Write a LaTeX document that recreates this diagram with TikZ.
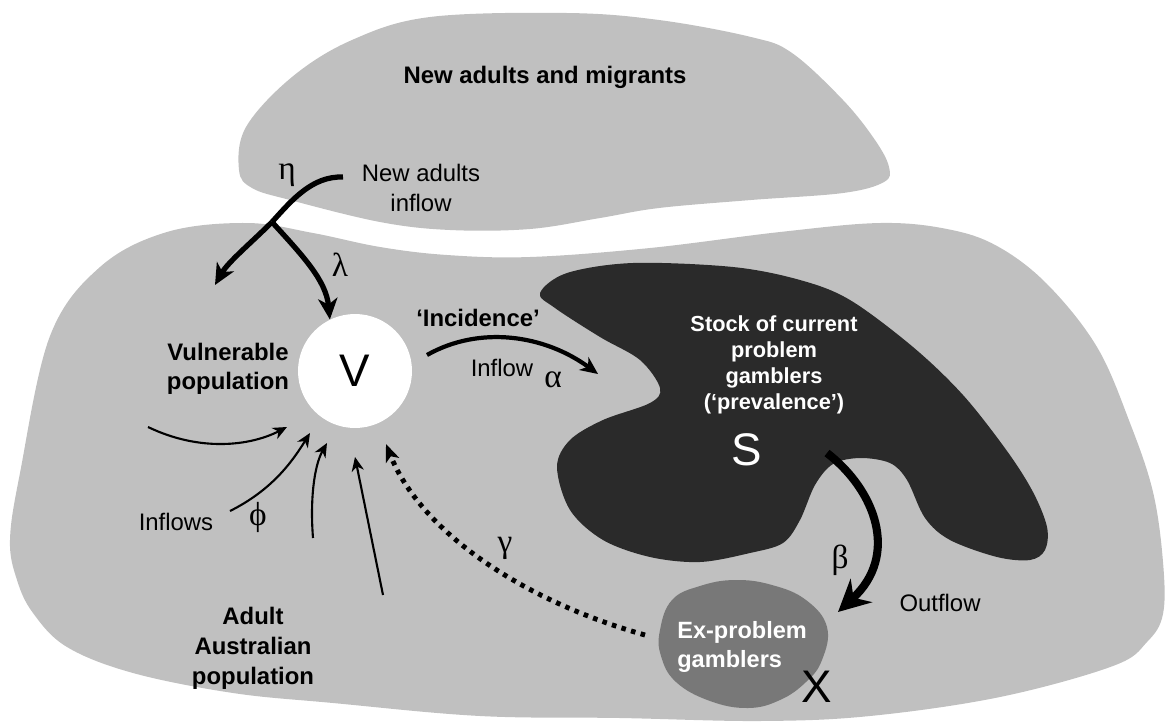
\documentclass[tikz,border=0pt]{standalone}
\usepackage{fontspec}
\setmainfont{Liberation Sans}
\newfontfamily\greekfont{Liberation Serif}
\usetikzlibrary{arrows.meta}

\definecolor{popgrey}{gray}{0.753}
\definecolor{stockgrey}{gray}{0.165}
\definecolor{exgrey}{gray}{0.47}

\begin{document}
\begin{tikzpicture}[x = 0.02cm, y = -0.02cm,
                        txt/.style = {inner sep = 0pt, align = center, font = \fontsize{13.6}{16.5}\selectfont},
                        boldtxt/.style = {inner sep = 0pt, align = center, font = \fontsize{13.6}{16.5}\selectfont\bfseries},
                        whitetxt/.style = {inner sep = 0pt, text = white, font = \fontsize{12.4}{14.8}\selectfont\bfseries},
                        letter/.style = {inner sep = 0pt, font = \fontsize{26}{26}\selectfont},
                        greek/.style = {inner sep = 0pt, font = \greekfont\fontsize{19}{19}\selectfont},
                        bigflow/.style = {line width = 3pt, -{Stealth[length = 12pt, width = 11pt, inset = 3.5pt]}},
                        flow/.style = {line width = 2.4pt, -{Stealth[length = 10pt, width = 9pt, inset = 3pt]}},
                        outflow/.style = {line width = 4.6pt, -{Stealth[length = 18pt, width = 18pt, inset = 6pt]}},
                        thinflow/.style = {line width = 1.2pt, -{Stealth[length = 8pt, width = 7pt, inset = 2.5pt]}},
                        dotflow/.style = {line width = 2.8pt, dash pattern = on 2.6pt off 3.1pt, -{Stealth[length = 10pt, width = 8pt, inset = 2.5pt]}}]
      \useasboundingbox (0, 0) rectangle (1167, 724);

      \fill [popgrey] plot [smooth cycle, tension = 0.6] coordinates {
        (239, 170) (246, 127) (292, 77) (352, 40) (430, 17) (567, 13) (659, 20) (751, 37)
        (792, 53) (843, 100) (875, 140) (889, 167) (884, 182) (843, 193) (751, 200) (659, 208)
        (600, 218) (530, 229) (450, 230) (380, 222) (290, 200) (252, 188)};

      \fill [popgrey] plot [smooth cycle, tension = 0.6] coordinates {
        (167, 232) (247, 223) (313, 233) (380, 247) (447, 255) (530, 257) (650, 248) (780, 232)
        (880, 223) (947, 229) (997, 246) (1047, 284) (1097, 347) (1130, 423) (1153, 492) (1163, 562)
        (1163, 614) (1147, 642) (1113, 666) (1000, 697) (870, 716) (760, 721) (620, 718) (480, 716)
        (333, 703) (233, 693) (133, 673) (67, 647) (33, 613) (17, 580) (10, 540) (20, 473)
        (50, 336) (100, 267)};

      \fill [stockgrey] plot [smooth cycle, tension = 0.55] coordinates {
        (540, 293) (567, 273) (633, 263) (733, 267) (800, 280) (850, 300) (913, 347) (963, 395)
        (1007, 451) (1033, 492) (1047, 527) (1045, 550) (1030, 560) (997, 557) (950, 540) (925, 518)
        (907, 480) (890, 463) (860, 458) (833, 464) (815, 485) (800, 520) (783, 543) (750, 553)
        (700, 562) (650, 557) (603, 540) (570, 510) (557, 467) (570, 440) (603, 420) (650, 403)
        (660, 388) (640, 360) (600, 337) (555, 308)};

      \fill [exgrey] plot [smooth cycle, tension = 0.7] coordinates {
        (660, 630) (672, 600) (700, 586) (735, 580) (772, 585) (806, 600) (827, 627) (822, 660)
        (806, 682) (780, 700) (748, 708) (710, 701) (676, 682) (661, 656)};

      \node [boldtxt] (title) at (545, 77) {New adults and migrants};
      \node [txt, font = \fontsize{13.6}{17}\selectfont] (newadults) at (421, 188) {New adults\\inflow};
      \node [greek] (eta) at (287, 175) {η};
      \node [greek] (lambda) at (340, 265) {λ};

      \node [circle, fill = white, minimum size = 2.28cm, letter] (V) at (355, 371) {V};
      \node [boldtxt] (vuln) at (228, 369) {Vulnerable\\population};
      \node [boldtxt] (incid) at (478, 318) {‘Incidence’};
      \node [txt] (inflow) at (502, 368) {Inflow};
      \node [greek] (alpha) at (553, 380) {α};

      \node [whitetxt, align = center] (stock) at (774, 365) {Stock of current\\problem\\gamblers\\(‘prevalence’)};
      \node [letter, text = white] (S) at (747, 450) {S};
      \node [greek] (beta) at (840, 560) {β};
      \node [txt] (outflow) at (940, 603) {Outflow};
      \node [whitetxt, align = left, anchor = west, font = \fontsize{13.4}{16.5}\selectfont\bfseries] (ex) at (677, 647) {Ex-problem\\gamblers};
      \node [letter] (X) at (817, 687) {X};
      \node [greek] (gamma) at (505, 548) {γ};

      \node [txt] (inflows) at (176, 522) {Inflows};
      \node [greek] (phi) at (258, 517) {ϕ};
      \node [boldtxt, font = \fontsize{13.6}{17}\selectfont\bfseries] (adult) at (253, 648) {Adult\\Australian\\population};

      \coordinate (naStart) at (343, 177);
      \coordinate (split) at (272, 222);
      \coordinate (naEnd) at (215, 285);
      \coordinate (incStart) at (427, 355);
      \coordinate (incEnd) at (598, 374);
      \coordinate (outStart) at (827, 453);
      \coordinate (outEnd) at (838, 612);
      \coordinate (exLeft) at (645, 635);
      \coordinate (gamEnd) at (386, 444);

      \coordinate (a1) at (148, 427);  \coordinate (b1) at (287, 427);
      \coordinate (a2) at (230, 511);  \coordinate (b2) at (310, 433);
      \coordinate (a3) at (313, 538);  \coordinate (b3) at (327, 443);
      \coordinate (a4) at (383, 595);  \coordinate (b4) at (355, 457);

      \draw [line width = 3pt] (naStart) .. controls (312, 176) and (292, 200) .. (split);
      \draw [bigflow] (split) .. controls (252, 242) and (228, 262) .. (naEnd);
      \draw [bigflow] (split) .. controls (302, 255) and (326, 280) .. (V.116);

      \draw [flow] (incStart) .. controls (480, 325) and (545, 335) .. (incEnd);
      \draw [outflow] (outStart) .. controls (875, 490) and (900, 555) .. (outEnd);
      \draw [dotflow] (exLeft) .. controls (520, 600) and (420, 530) .. (gamEnd);

      \draw [thinflow] (a1) .. controls (200, 452) and (250, 446) .. (b1);
      \draw [thinflow] (a2) .. controls (272, 490) and (292, 462) .. (b2);
      \draw [thinflow] (a3) .. controls (310, 500) and (314, 466) .. (b3);
      \draw [thinflow] (a4) -- (b4);

      \end{tikzpicture}
\end{document}
